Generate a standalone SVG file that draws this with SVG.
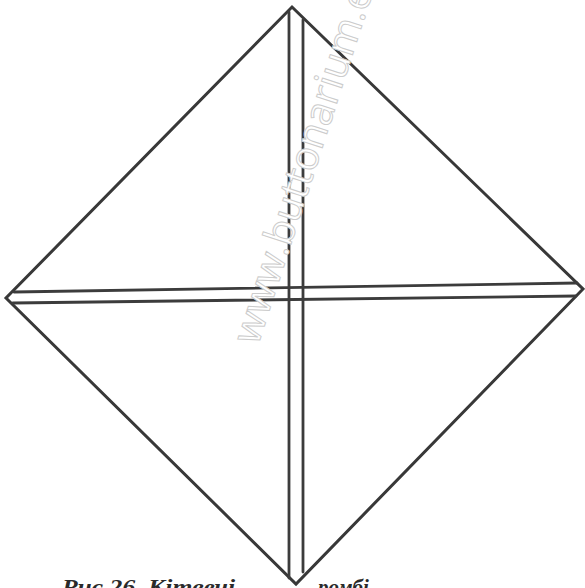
<svg xmlns="http://www.w3.org/2000/svg" width="585" height="588" viewBox="0 0 585 588">
<style>
.ln{stroke:#383838;stroke-width:3;fill:none;stroke-linecap:round;stroke-linejoin:miter}
.dl{stroke:#3c3c3c;stroke-width:2.8;fill:none;stroke-linecap:round}
.cap{font-family:"Liberation Serif",serif;font-weight:bold;font-style:italic;font-size:21px;fill:#2a2a2a}
.wm{font-family:"Open Sans","Liberation Sans",sans-serif;font-size:40px;fill:#ffffff;stroke:#cccccc;stroke-width:1}
</style>
<rect width="585" height="588" fill="#ffffff"/>
<g id="diamond">
<polygon class="ln" points="292,7 583,289 296,584 6,298"/>
</g>
<g id="connectors">
<line class="dl" x1="289" y1="12" x2="289" y2="578"/>
<line class="dl" x1="303" y1="20" x2="303" y2="572"/>
<line class="dl" x1="14" y1="292" x2="577" y2="283"/>
<line class="dl" x1="13" y1="303" x2="576" y2="296"/>
</g>
<g id="watermark">
<text class="wm" transform="translate(258,346) rotate(-72)">www.buttonarium.e</text>
</g>
<g id="caption">
<text class="cap" x="62" y="594" textLength="173" lengthAdjust="spacingAndGlyphs">Рис 26. Кітвечі</text>
<text class="cap" x="318" y="594">ромбі</text>
</g>
</svg>
